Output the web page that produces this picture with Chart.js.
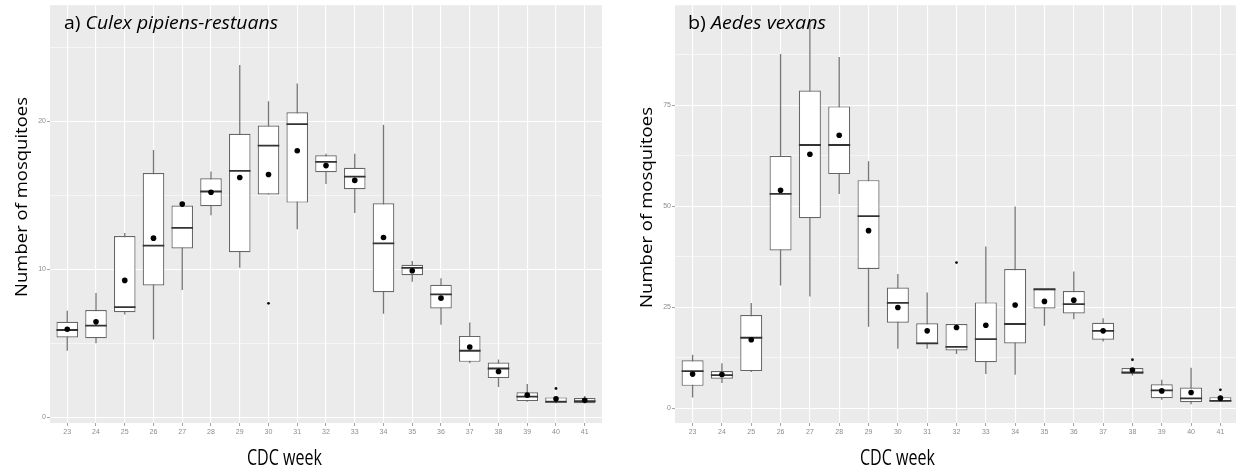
<!DOCTYPE html>
<html><head><meta charset="utf-8">
<script src="https://cdn.jsdelivr.net/npm/chart.js@4.4.1/dist/chart.umd.min.js"></script>
<style>
html,body{margin:0;padding:0;background:#fff;overflow:hidden;width:1236px;height:470px;position:relative;}
#c1{position:absolute;left:0;top:0;}
#c2{position:absolute;left:610px;top:0;}
#overlay{position:absolute;left:0;top:0;pointer-events:none;}
</style></head><body>
<canvas id="c1" width="610" height="470"></canvas>
<canvas id="c2" width="632" height="470"></canvas>
<svg id="overlay" width="1236" height="470" font-family="'Open Sans', Lato, sans-serif" fill="#000">
  <text x="64" y="29" font-size="18" textLength="214" lengthAdjust="spacingAndGlyphs">a) <tspan font-style="italic">Culex pipiens-restuans</tspan></text>
  <text x="688" y="29" font-size="18" textLength="138" lengthAdjust="spacingAndGlyphs">b) <tspan font-style="italic">Aedes vexans</tspan></text>
  <text transform="translate(26.5,197) rotate(-90)" text-anchor="middle" font-size="17" textLength="200" lengthAdjust="spacingAndGlyphs">Number of mosquitoes</text>
  <text transform="translate(652,207.5) rotate(-90)" text-anchor="middle" font-size="17" textLength="201" lengthAdjust="spacingAndGlyphs">Number of mosquitoes</text>
  <text x="284.5" y="465" text-anchor="middle" font-size="22.5" textLength="75" lengthAdjust="spacingAndGlyphs">CDC week</text>
  <text x="897.5" y="465" text-anchor="middle" font-size="22.5" textLength="75" lengthAdjust="spacingAndGlyphs">CDC week</text>
</svg>
<script>
// ---------- data ----------
const weeks = [23,24,25,26,27,28,29,30,31,32,33,34,35,36,37,38,39,40,41];

// a) Culex pipiens-restuans
const culexWhiskerLow  = [4.5, 5.0, 6.95, 5.25, 8.6, 13.65, 10.1, 15.05, 12.7, 15.75, 13.8, 7.0, 9.15, 6.25, 3.65, 2.05, 1.05, 0.95, 0.95];
const culexQ1          = [5.4, 5.35, 7.1, 8.9, 11.4, 14.25, 11.15, 15.05, 14.5, 16.55, 15.4, 8.45, 9.6, 7.35, 3.75, 2.65, 1.1, 1.05, 0.95];
const culexMedian      = [5.9, 6.2, 7.45, 11.6, 12.8, 15.25, 16.65, 18.35, 19.8, 17.25, 16.25, 11.75, 10.1, 8.3, 4.5, 3.3, 1.4, 1.05, 1.1];
const culexQ3          = [6.45, 7.25, 12.25, 16.5, 14.3, 16.15, 19.15, 19.7, 20.6, 17.7, 16.85, 14.45, 10.3, 8.95, 5.5, 3.7, 1.7, 1.35, 1.3];
const culexWhiskerHigh = [7.2, 8.4, 12.45, 18.05, 14.3, 16.6, 23.8, 21.35, 22.55, 17.8, 17.8, 19.75, 10.55, 9.4, 6.4, 3.9, 2.25, 1.35, 1.45];
const culexMean        = [5.95, 6.45, 9.25, 12.1, 14.4, 15.2, 16.2, 16.4, 18.0, 17.0, 16.0, 12.15, 9.9, 8.05, 4.75, 3.1, 1.5, 1.25, 1.15];
const culexOutlierWeeks  = [30, 40];
const culexOutlierValues = [7.7, 1.95];
const culexYTicks  = [0, 5, 10, 15, 20, 25];
const culexYLabels = [0, 10, 20];

// b) Aedes vexans
const aedesWhiskerLow  = [2.7, 6.3, 9.0, 30.4, 27.7, 53.1, 20.2, 14.8, 14.8, 13.45, 8.5, 8.35, 20.45, 22.1, 16.6, 8.15, 2.15, 1.05, 1.7];
const aedesQ1          = [5.6, 7.35, 9.25, 39.1, 47.1, 58.0, 34.5, 21.2, 16.0, 14.35, 11.45, 16.1, 24.75, 23.5, 17.0, 8.6, 2.55, 1.55, 1.7];
const aedesMedian      = [9.25, 8.25, 17.5, 53.1, 65.2, 65.2, 47.6, 26.15, 16.1, 15.25, 17.15, 20.9, 29.5, 25.8, 19.2, 8.9, 4.45, 2.5, 1.9];
const aedesQ3          = [11.9, 9.25, 23.1, 62.5, 78.7, 74.75, 56.5, 29.95, 21.1, 20.9, 26.25, 34.5, 29.55, 29.05, 21.2, 10.0, 6.0, 5.2, 2.8];
const aedesWhiskerHigh = [13.3, 11.2, 26.1, 87.7, 95.5, 87.0, 61.2, 33.3, 28.7, 20.9, 40.1, 50.0, 29.55, 33.9, 22.35, 10.0, 7.1, 10.1, 2.8];
const aedesMean        = [8.5, 8.4, 17.0, 54.0, 62.9, 67.6, 44.0, 25.0, 19.2, 20.05, 20.6, 25.6, 26.5, 26.8, 19.2, 9.5, 4.35, 3.95, 2.55];
const aedesOutlierWeeks  = [32, 38, 41];
const aedesOutlierValues = [36.1, 12.05, 4.6];
const aedesYTicks  = [0, 12.5, 25, 37.5, 50, 62.5, 75, 87.5];
const aedesYLabels = [0, 25, 50, 75];

// ---------- chart ----------
const panelBg = {
  id: 'panelBg',
  beforeDraw(chart) {
    const {ctx, chartArea: a} = chart;
    ctx.save();
    ctx.fillStyle = '#EBEBEB';
    ctx.fillRect(a.left, a.top, a.right - a.left, a.bottom - a.top);
    ctx.restore();
  }
};

function halfBox(ctx) {
  const x = ctx.chart.scales.x;
  return Math.abs(x.getPixelForValue(1) - x.getPixelForValue(0)) * 0.375;
}

function makeDatasets(wLo, q1, med, q3, wHi, mean, outW, outV) {
  return [
    { type: 'bar', label: 'whisker', data: weeks.map((w, i) => ({x: w, y: [wLo[i], wHi[i]]})),
      backgroundColor: '#777777', borderWidth: 0, maxBarThickness: 1.3,
      barPercentage: 0.75, categoryPercentage: 1, grouped: false, order: 5 },
    { type: 'bar', label: 'box', data: weeks.map((w, i) => ({x: w, y: [q1[i], q3[i]]})),
      backgroundColor: '#ffffff', borderColor: '#666666', borderWidth: 1.2, borderSkipped: false,
      barPercentage: 0.75, categoryPercentage: 1, grouped: false, order: 4 },
    { type: 'line', label: 'median', data: weeks.map((w, i) => ({x: w, y: med[i]})),
      showLine: false, pointStyle: 'line', pointRadius: halfBox, pointHoverRadius: halfBox,
      borderColor: '#333333', pointBorderColor: '#333333', pointBorderWidth: 1.8, order: 3 },
    { type: 'line', label: 'outlier', data: outW.map((w, i) => ({x: w, y: outV[i]})),
      showLine: false, pointRadius: 1.4, pointBackgroundColor: '#111', pointBorderColor: '#111',
      pointBorderWidth: 0, order: 2 },
    { type: 'line', label: 'mean', data: weeks.map((w, i) => ({x: w, y: mean[i]})),
      showLine: false, pointRadius: 2.8, pointBackgroundColor: '#000', pointBorderColor: '#000',
      pointBorderWidth: 0, order: 1 }
  ];
}

function makeChart(id, sets, yMin, yMax, yTicks, yLabels, yWidth, padRight) {
  return new Chart(document.getElementById(id), {
    type: 'bar',
    data: { datasets: sets },
    plugins: [panelBg],
    options: {
      responsive: false, animation: false,
      layout: { padding: { top: 5, right: padRight, left: 0, bottom: 0 } },
      plugins: { legend: { display: false }, tooltip: { enabled: false } },
      scales: {
        x: {
          type: 'linear', min: 22.4, max: 41.6, offset: false,
          afterBuildTicks: s => { s.ticks = weeks.map(v => ({value: v})); },
          afterFit: s => { s.height = 47; },
          ticks: { color: '#8c8c8c', font: { size: 7, family: 'Liberation Sans' }, padding: 2, autoSkip: false, maxRotation: 0,
                   callback: v => String(v) },
          grid: { offset: false, color: '#ffffff', lineWidth: 1.1, tickLength: 3, tickColor: '#a0a0a0', tickWidth: 1 },
          border: { display: false }
        },
        y: {
          type: 'linear', min: yMin, max: yMax,
          afterBuildTicks: s => { s.ticks = yTicks.map(v => ({value: v})); },
          afterFit: s => { s.width = yWidth; },
          ticks: { color: '#8c8c8c', font: { size: 7, family: 'Liberation Sans' }, padding: 1, autoSkip: false,
                   callback: v => yLabels.includes(v) ? String(v) : '' },
          grid: { color: '#ffffff',
                  lineWidth: c => (c.tick && yLabels.includes(c.tick.value)) ? 1.1 : 0.55,
                  tickLength: 3,
                  tickColor: c => (c.tick && yLabels.includes(c.tick.value)) ? '#a0a0a0' : 'rgba(0,0,0,0)',
                  tickWidth: 1 },
          border: { display: false }
        }
      }
    }
  });
}

makeChart('c1',
  makeDatasets(culexWhiskerLow, culexQ1, culexMedian, culexQ3, culexWhiskerHigh, culexMean, culexOutlierWeeks, culexOutlierValues),
  -0.38, 27.83, culexYTicks, culexYLabels, 50, 8);
makeChart('c2',
  makeDatasets(aedesWhiskerLow, aedesQ1, aedesMedian, aedesQ3, aedesWhiskerHigh, aedesMean, aedesOutlierWeeks, aedesOutlierValues),
  -3.6, 99.8, aedesYTicks, aedesYLabels, 65, 2);
</script>
</body></html>
